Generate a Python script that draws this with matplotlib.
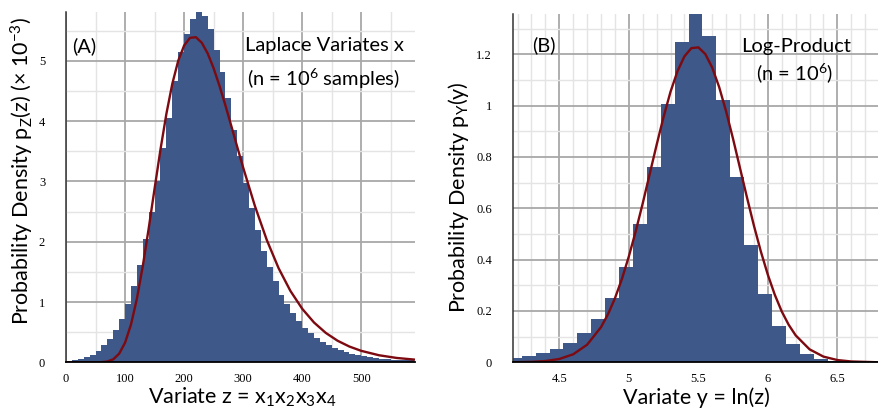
import matplotlib
matplotlib.use("Agg")
import matplotlib.pyplot as plt
from matplotlib.ticker import MultipleLocator, FormatStrFormatter
import numpy as np

# (A) histogram of z = x1*x2*x3*x4, bins of width 10 starting at 0 (density x 1e-3)
z_bin_start = 0
z_bin_width = 10
z_density = [0.02, 0.04, 0.06, 0.09, 0.12, 0.19, 0.28, 0.38, 0.54, 0.72,
             0.96, 1.27, 1.61, 2.05, 2.50, 3.00, 3.55, 4.05, 4.67, 5.14,
             5.44, 5.69, 5.83, 5.75, 5.53, 5.18, 4.81, 4.39, 3.86, 3.42,
             2.97, 2.56, 2.20, 1.84, 1.58, 1.35, 1.12, 0.97, 0.82, 0.68,
             0.57, 0.48, 0.40, 0.34, 0.29, 0.24, 0.20, 0.17, 0.14, 0.12,
             0.10, 0.085, 0.07, 0.06, 0.05, 0.045, 0.04, 0.035, 0.03]

# fitted curve
z_curve = [0, 50, 60, 70, 80, 90, 100, 110, 120, 130, 140, 150, 160, 170, 180,
           190, 200, 210, 220, 230, 240, 250, 260, 270, 280, 290, 300, 320, 340,
           360, 380, 400, 420, 440, 460, 480, 500, 530, 560, 590]
pz_curve = [0.0, 0.0002, 0.0023, 0.013, 0.050, 0.143, 0.325, 0.625, 1.052, 1.594,
            2.218, 2.880, 3.530, 4.121, 4.619, 5.000, 5.254, 5.382, 5.392, 5.299,
            5.121, 4.876, 4.583, 4.259, 3.918, 3.571, 3.230, 2.589, 2.029, 1.561,
            1.184, 0.888, 0.660, 0.487, 0.357, 0.261, 0.190, 0.117, 0.072, 0.045]

# (B) histogram of y = ln(z), bins of width 0.1
y_bin_start = 4.13
y_bin_width = 0.1
y_density = [0.018, 0.025, 0.037, 0.053, 0.077, 0.113, 0.170, 0.252, 0.372, 0.539,
             0.762, 1.006, 1.247, 1.37, 1.273, 1.022, 0.723, 0.456, 0.265, 0.143,
             0.070, 0.033, 0.014, 0.005, 0.002, 0.001, 0.0005]

# gaussian curve
y_curve = [4.165, 4.3, 4.4, 4.5, 4.6, 4.7, 4.8, 4.85, 4.9, 4.95, 5.0, 5.05, 5.1,
           5.15, 5.2, 5.25, 5.3, 5.35, 5.4, 5.45, 5.5, 5.55, 5.6, 5.65, 5.7, 5.75,
           5.8, 5.85, 5.9, 5.95, 6.0, 6.05, 6.1, 6.15, 6.2, 6.3, 6.4, 6.5, 6.6, 6.79]
py_curve = [0.0003, 0.0017, 0.0049, 0.0129, 0.0312, 0.0685, 0.137, 0.187, 0.249,
            0.324, 0.412, 0.511, 0.619, 0.733, 0.847, 0.956, 1.054, 1.134, 1.192,
            1.224, 1.227, 1.201, 1.148, 1.072, 0.977, 0.870, 0.756, 0.642, 0.532,
            0.431, 0.341, 0.263, 0.198, 0.146, 0.105, 0.0505, 0.0221, 0.0088,
            0.0032, 0.0002]

BAR = "#3d5889"
CURVE = "#7c0a10"
SANS = "Lato"
SERIF = "Liberation Serif"

plt.rcParams["font.family"] = [SANS, "DejaVu Sans"]
plt.rcParams["mathtext.fontset"] = "custom"
plt.rcParams["mathtext.rm"] = SANS


def style_axes(ax, xmaj, xmin, ymaj, ymin):
    ax.xaxis.set_major_locator(MultipleLocator(xmaj))
    ax.xaxis.set_minor_locator(MultipleLocator(xmin))
    ax.yaxis.set_major_locator(MultipleLocator(ymaj))
    ax.yaxis.set_minor_locator(MultipleLocator(ymin))
    ax.xaxis.set_major_formatter(FormatStrFormatter("%g"))
    ax.yaxis.set_major_formatter(FormatStrFormatter("%g"))
    ax.grid(which="major", color="#a8a8a8", lw=1.3)
    ax.grid(which="minor", color="#e4e4e4", lw=1.0)
    ax.set_axisbelow(True)
    for s in ["top", "right"]:
        ax.spines[s].set_visible(False)
    ax.spines["left"].set_color("#333333")
    ax.spines["left"].set_linewidth(1.1)
    ax.spines["bottom"].set_color("black")
    ax.spines["bottom"].set_linewidth(1.3)
    ax.tick_params(which="both", length=0)
    ax.tick_params(axis="x", pad=8)
    ax.tick_params(axis="y", pad=15)
    for lab in ax.get_xticklabels() + ax.get_yticklabels():
        lab.set_fontfamily(SERIF)
        lab.set_fontsize(9)


fig = plt.figure(figsize=(8.79, 4.15), dpi=100)

# panel A
ax1 = fig.add_axes([66 / 879, 1 - 362.3 / 415, 349 / 879, 350.3 / 415])
z_edges = z_bin_start + z_bin_width * np.arange(len(z_density))
ax1.bar(z_edges, z_density, width=z_bin_width, align="edge", color=BAR, lw=0)
ax1.plot(z_curve, pz_curve, color=CURVE, lw=1.7)
ax1.set_xlim(0, 591)
ax1.set_ylim(0, 5.81)
style_axes(ax1, 100, 50, 1, 0.5)
ax1.text(0.017, 0.903, "(A)", transform=ax1.transAxes, fontsize=14.5, va="center")
ax1.text(0.741, 0.903, "Laplace Variates x", transform=ax1.transAxes,
         fontsize=14.5, va="center", ha="center")
ax1.text(0.738, 0.809, r"(n = 10$\mathregular{^6}$ samples)", transform=ax1.transAxes,
         fontsize=14.5, va="center", ha="center")

# panel B
ax2 = fig.add_axes([512.7 / 879, 1 - 362.3 / 415, 365 / 879, 348.3 / 415])
y_edges = y_bin_start + y_bin_width * np.arange(len(y_density))
ax2.bar(y_edges, y_density, width=y_bin_width, align="edge", color=BAR, lw=0)
ax2.plot(y_curve, py_curve, color=CURVE, lw=1.7)
ax2.set_xlim(4.165, 6.79)
ax2.set_ylim(0, 1.357)
style_axes(ax2, 0.5, 0.1, 0.2, 0.1)
ax2.text(0.053, 0.911, "(B)", transform=ax2.transAxes, fontsize=14.5, va="center")
ax2.text(0.776, 0.908, "Log-Product", transform=ax2.transAxes,
         fontsize=14.5, va="center", ha="center")
ax2.text(0.772, 0.831, r"(n = 10$\mathregular{^6}$)", transform=ax2.transAxes,
         fontsize=14.5, va="center", ha="center")

# axis labels
fig.text(242.5 / 879, 1 - 404 / 415,
         r"Variate z = x$\mathregular{_1}$x$\mathregular{_2}$x$\mathregular{_3}$x$\mathregular{_4}$",
         fontsize=15.5, ha="center", va="baseline")
fig.text(696.5 / 879, 1 - 404 / 415, "Variate y = ln(z)",
         fontsize=15.5, ha="center", va="baseline")
fig.text(22 / 879, 1 - 171 / 415,
         r"Probability Density p$\mathregular{_Z}$(z) (× 10$\mathregular{^{-3}}$)",
         fontsize=15.5, rotation=90, ha="center", va="center")
fig.text(459 / 879, 1 - 197 / 415, r"Probability Density p$\mathregular{_Y}$(y)",
         fontsize=15.5, rotation=90, ha="center", va="center")

fig.savefig("out.png", dpi=100)
